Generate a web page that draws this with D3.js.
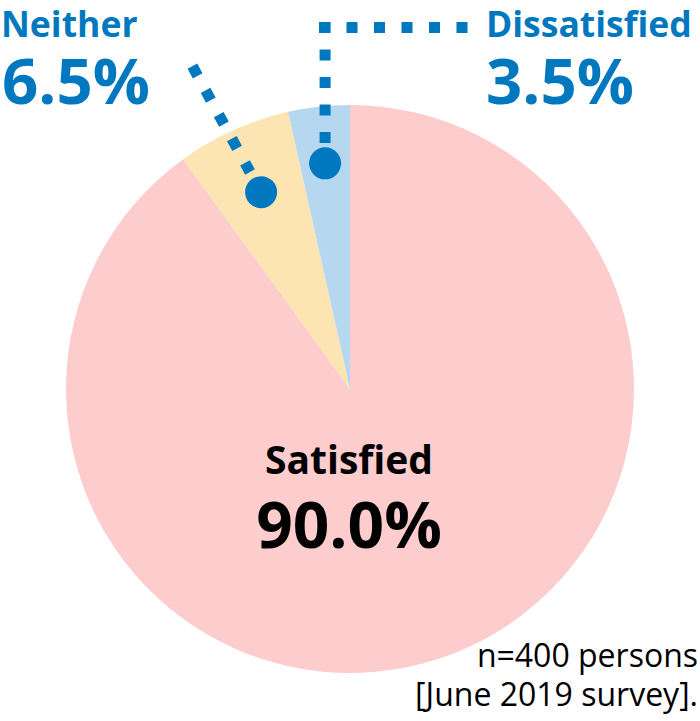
<!DOCTYPE html>
<html>
<head>
<meta charset="utf-8">
<script src="https://cdn.jsdelivr.net/npm/d3@7"></script>
<style>
  body { margin: 0; background: #fff; }
  svg { display: block; font-family: "Open Sans", "Noto Sans", sans-serif; }
</style>
</head>
<body>
<div id="chart-area"></div>
<script>
// survey answers, clockwise from 12 o'clock
var categories = ["Satisfied", "Neither", "Dissatisfied"];
var shares = [90.0, 6.5, 3.5];
var sliceColors = ["#fdcccc", "#fce5b2", "#b5d8f0"];
var footnote = ["n=400 persons", "[June 2019 survey]."];

var width = 700, height = 721;
var cx = 350, cy = 389, radius = 284;
var blue = "#0078c0";

var svg = d3.select("#chart-area")
    .append("svg")
    .attr("width", width)
    .attr("height", height);

var data = categories.map(function(c, i) {
    return { name: c, value: shares[i], color: sliceColors[i] };
});

var pie = d3.pie()
    .value(d => d.value)
    .sort(null);

var arc = d3.arc()
    .innerRadius(0)
    .outerRadius(radius);

var arcs = pie(data);

var g = svg.append("g")
    .attr("transform", "translate(" + cx + "," + cy + ")");

g.selectAll("path")
    .data(arcs)
    .enter()
    .append("path")
    .attr("d", arc)
    .attr("fill", d => d.data.color);

// point on the middle of a slice at distance r from the centre
function midPoint(a, r) {
    var ang = (a.startAngle + a.endAngle) / 2;
    return [cx + r * Math.sin(ang), cy - r * Math.cos(ang)];
}

var fmt = d3.format(".1f");

// big label inside the pie
svg.append("text")
    .attr("x", 349)
    .attr("y", 474)
    .attr("text-anchor", "middle")
    .attr("font-weight", "bold")
    .attr("font-size", 39)
    .attr("fill", "#000")
    .text(arcs[0].data.name);

svg.append("text")
    .attr("x", 349)
    .attr("y", 548)
    .attr("text-anchor", "middle")
    .attr("font-weight", "bold")
    .attr("font-size", 64)
    .attr("fill", "#000")
    .text(fmt(arcs[0].data.value) + "%");

// leader for "Neither"
var pN = midPoint(arcs[1], 216);
var dash = "11 16.5";
svg.append("line")
    .attr("x1", 192.4).attr("y1", 66.2)
    .attr("x2", 250).attr("y2", 172)
    .attr("stroke", blue)
    .attr("stroke-width", 11)
    .attr("stroke-dasharray", dash);
svg.append("circle")
    .attr("cx", pN[0]).attr("cy", pN[1])
    .attr("r", 16)
    .attr("fill", blue);

// leader for "Dissatisfied"
var pD = midPoint(arcs[2], 227);
svg.append("line")
    .attr("x1", 319).attr("y1", 27.5)
    .attr("x2", 470).attr("y2", 27.5)
    .attr("stroke", blue)
    .attr("stroke-width", 11)
    .attr("stroke-dasharray", dash);
svg.append("line")
    .attr("x1", pD[0]).attr("y1", 22)
    .attr("x2", pD[0]).attr("y2", 146)
    .attr("stroke", blue)
    .attr("stroke-width", 11)
    .attr("stroke-dasharray", dash);
svg.append("circle")
    .attr("cx", pD[0]).attr("cy", pD[1])
    .attr("r", 16)
    .attr("fill", blue);

// outside labels
svg.append("text")
    .attr("x", 1).attr("y", 37)
    .attr("font-weight", "bold").attr("font-size", 35.5)
    .attr("fill", blue)
    .text(arcs[1].data.name);
svg.append("text")
    .attr("x", 2).attr("y", 104)
    .attr("font-weight", "bold").attr("font-size", 63.5)
    .attr("fill", blue)
    .text(fmt(arcs[1].data.value) + "%");

svg.append("text")
    .attr("x", 486).attr("y", 37)
    .attr("font-weight", "bold").attr("font-size", 35.5)
    .attr("fill", blue)
    .text(arcs[2].data.name);
svg.append("text")
    .attr("x", 486).attr("y", 104)
    .attr("font-weight", "bold").attr("font-size", 63.5)
    .attr("fill", blue)
    .text(fmt(arcs[2].data.value) + "%");

// note in the corner
svg.selectAll("text.note")
    .data(footnote)
    .enter()
    .append("text")
    .attr("class", "note")
    .attr("x", 698)
    .attr("y", (d, i) => 667 + i * 39)
    .attr("text-anchor", "end")
    .attr("font-size", 32)
    .attr("fill", "#000")
    .text(d => d);
</script>
</body>
</html>
